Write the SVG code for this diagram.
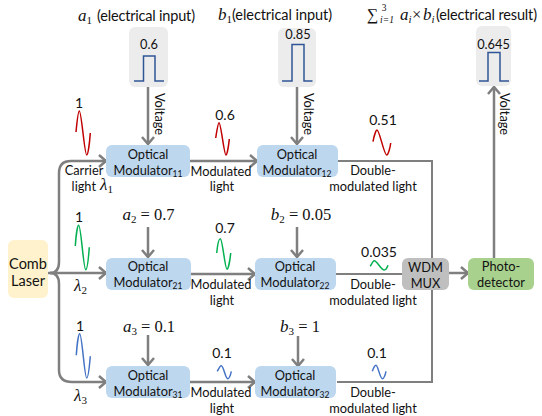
<svg xmlns="http://www.w3.org/2000/svg" width="542" height="416" viewBox="0 0 542 416">
<style>
text{font-family:"Lato","Noto Sans",sans-serif;font-size:12.8px;fill:#111;text-anchor:middle}
.st{text-anchor:start}
.n{font-size:14px}
.s{font-size:8.5px}
.m{font-family:"Liberation Serif",serif;font-style:italic;font-size:17px}
.mr{font-family:"Liberation Serif",serif;font-size:16.5px}
.ms{font-family:"Liberation Serif",serif;font-size:11px}
.msi{font-family:"Liberation Serif",serif;font-style:italic;font-size:11px}
.t{font-size:14.5px}
.l{stroke:#7f7f7f;stroke-width:2.5;fill:none}
.th{stroke:#7f7f7f;stroke-width:2;fill:none}
.mod{fill:#bdd7ee}
.sig{fill:#ececec}
.p{fill:none;stroke:#2f5597;stroke-width:1.5}
.w{fill:none;stroke-width:1.5}
.r{stroke:#c00000}.g{stroke:#00b050}.b{stroke:#4472c4}
</style>
<defs>
<marker id="a" markerUnits="userSpaceOnUse" markerWidth="16" markerHeight="16" refX="13" refY="8" orient="auto">
<polyline points="6,2 13,8 6,14" fill="none" stroke="#7f7f7f" stroke-width="2.5"/>
</marker>
</defs>

<g id="connectors">
<path class="l" d="M48 273H106" marker-end="url(#a)"/>
<path class="l" d="M50 273Q59 273 59 262V173Q59 161 71 161H106" marker-end="url(#a)"/>
<path class="l" d="M50 273Q59 273 59 284V370Q59 382 72 382H106" marker-end="url(#a)"/>
<path class="l" d="M148 87V144" marker-end="url(#a)"/>
<path class="l" d="M297 87V144" marker-end="url(#a)"/>
<path class="l" d="M148 227V257" marker-end="url(#a)"/>
<path class="l" d="M297 227V257" marker-end="url(#a)"/>
<path class="l" d="M148 335V365" marker-end="url(#a)"/>
<path class="l" d="M298 336V366" marker-end="url(#a)"/>
<path class="l" d="M190 161H257" marker-end="url(#a)"/>
<path class="l" d="M190 274H255" marker-end="url(#a)"/>
<path class="l" d="M190 382H255" marker-end="url(#a)"/>
<path class="th" d="M338 161H432V258"/>
<path class="th" d="M336 274H402"/>
<path class="th" d="M337 382H432V290"/>
<path class="l" d="M449 273H468" marker-end="url(#a)"/>
<path class="l" d="M494 258V87" marker-end="url(#a)"/>
</g>

<g id="comb-laser"><rect x="8" y="240" width="40" height="58" rx="6" fill="#fff2cc"/><text x="28" y="269" class="t">Comb</text><text x="28" y="286" class="t">Laser</text></g>

<g id="mod11"><rect class="mod" x="106" y="145" width="84" height="32" rx="6"/><text x="148" y="159">Optical</text><text x="148" y="175">Modulator<tspan class="s" dy="2">11</tspan></text></g>
<g id="mod12"><rect class="mod" x="257" y="145" width="81" height="32" rx="6"/><text x="297" y="159">Optical</text><text x="297" y="175">Modulator<tspan class="s" dy="2">12</tspan></text></g>
<g id="mod21"><rect class="mod" x="106" y="258" width="85" height="32" rx="6"/><text x="148" y="271">Optical</text><text x="148" y="287">Modulator<tspan class="s" dy="2">21</tspan></text></g>
<g id="mod22"><rect class="mod" x="255" y="258" width="81" height="32" rx="6"/><text x="295" y="271">Optical</text><text x="295" y="287">Modulator<tspan class="s" dy="2">22</tspan></text></g>
<g id="mod31"><rect class="mod" x="106" y="366" width="84" height="32" rx="6"/><text x="148" y="380">Optical</text><text x="148" y="396">Modulator<tspan class="s" dy="2">31</tspan></text></g>
<g id="mod32"><rect class="mod" x="255" y="366" width="81" height="32" rx="6"/><text x="295" y="380">Optical</text><text x="295" y="396">Modulator<tspan class="s" dy="2">32</tspan></text></g>

<g id="wdm-mux"><rect x="402" y="258" width="47" height="32" rx="6" fill="#bfbfbf"/><text x="425.500" y="272">WDM</text><text x="425.500" y="288">MUX</text></g>
<g id="photodetector"><rect x="468" y="258" width="66" height="32" rx="6" fill="#a9d18e"/><text x="501" y="271">Photo-</text><text x="501" y="287">detector</text></g>

<g id="signal-a1"><rect class="sig" x="129" y="27" width="39" height="60" rx="6"/><text x="149" y="49">0.6</text><path class="p" d="M134 81H143.500V56H155V81H164"/></g>
<g id="signal-b1"><rect class="sig" x="278" y="28" width="38" height="59" rx="6"/><text x="298" y="39">0.85</text><path class="p" d="M282 81H292V44.500H304V81H312.500"/></g>
<g id="signal-result"><rect class="sig" x="476" y="26" width="35" height="60" rx="6"/><text x="493.500" y="49">0.645</text><path class="p" d="M479 81H488V52.500H500V81H509"/></g>

<g id="waves">
<path class="w r" d="M76 132C77 122 78 111 79.300 111C81.500 111 84.500 155 86.700 155C88 155 89.500 144 90.300 133"/>
<path class="w r" d="M215.700 138C217 130 218 122.700 219 122.700C221 122.700 224 155 226 155C227 155 228.500 147 229.300 139"/>
<path class="w r" d="M373 141.700C374 136 376 130 377 130C379.500 130 384 155 386.700 155C388 155 390 149 390.700 143"/>
<path class="w g" d="M75.300 246C76 235 77.500 225.300 78.700 225.300C81 225.300 83.500 269.700 85.700 269.700C87 269.700 88.500 258 89.300 247.300"/>
<path class="w g" d="M216.700 253C217.500 245 219 238.700 220.300 238.700C222.500 238.700 225 269.300 227 269.300C228.300 269.300 230 260 230.700 253"/>
<path class="w g" d="M370.300 266.300C371.500 264 373 260.700 374.300 260.700C377 260.700 381 270 384.300 270C385.500 270 387 268 388 265.300"/>
<path class="w b" d="M76.300 355.300C77 344 78.500 333.700 79.700 333.700C82 333.700 84.500 378 86.700 378C88 378 89.500 366 90.300 356.300"/>
<path class="w b" d="M217.300 371.300C218.500 369 220 365.700 221.300 365.700C223.500 365.700 225.500 378.700 227.700 378.700C229 378.700 230.500 375 231.300 371.300"/>
<path class="w b" d="M372.300 371.300C373.500 368 374.800 365.300 376 365.300C378 365.300 380 378.700 382.300 378.700C383.600 378.700 385.200 375 386 371.300"/>
</g>

<g id="labels">
<text x="78" y="21" class="st"><tspan class="m">a</tspan><tspan class="ms" dy="3">1</tspan></text>
<text x="97" y="21" class="t st" textLength="98">(electrical input)</text>
<text x="218" y="20" class="st"><tspan class="m">b</tspan><tspan class="ms" dy="3">1</tspan></text>
<text x="232" y="20" class="t st" textLength="100">(electrical input)</text>
<text x="367" y="20" class="mr st" style="font-size:16px">∑</text>
<text x="384" y="11" class="ms" style="font-size:9.5px">3</text>
<text x="387" y="23" class="msi" style="font-size:9.5px">i<tspan class="ms" style="font-size:9.5px">=1</tspan></text>
<text x="400" y="20" class="st"><tspan class="m">a</tspan><tspan class="msi" dy="3">i</tspan></text>
<text x="412" y="20" class="mr st">×</text>
<text x="423" y="20" class="st"><tspan class="m">b</tspan><tspan class="msi" dy="3">i</tspan></text>
<text x="436" y="20" class="t st" textLength="101">(electrical result)</text>

<text class="n" x="79" y="108">1</text>
<text class="n" x="225" y="120">0.6</text>
<text class="n" x="383" y="125">0.51</text>
<text class="n" x="79" y="222">1</text>
<text class="n" x="225" y="233">0.7</text>
<text class="n" x="379" y="257">0.035</text>
<text class="n" x="80" y="331">1</text>
<text class="n" x="222" y="358">0.1</text>
<text class="n" x="377" y="358">0.1</text>

<text transform="translate(155 114) rotate(90)">Voltage</text>
<text transform="translate(304 114) rotate(90)">Voltage</text>
<text transform="translate(500 114) rotate(90)">Voltage</text>

<text x="84" y="175">Carrier</text>
<text x="96" y="191" style="text-anchor:end">light</text>
<text x="100" y="190" class="st"><tspan class="m">λ</tspan><tspan class="ms" dy="3">1</tspan></text>
<text x="74" y="291" class="st"><tspan class="m">λ</tspan><tspan class="ms" dy="3">2</tspan></text>
<text x="74" y="401" class="st"><tspan class="m">λ</tspan><tspan class="ms" dy="3">3</tspan></text>

<text x="221" y="176">Modulated</text><text x="222" y="191">light</text>
<text x="221" y="289">Modulated</text><text x="222" y="305">light</text>
<text x="221" y="397">Modulated</text><text x="222" y="413">light</text>
<text x="373" y="175">Double-</text><text x="373" y="191">modulated light</text>
<text x="373" y="289">Double-</text><text x="373" y="305">modulated light</text>
<text x="373" y="397">Double-</text><text x="373" y="413">modulated light</text>

<text x="148.500" y="220"><tspan class="m">a</tspan><tspan class="ms" dy="3">2</tspan><tspan class="mr" dy="-3" xml:space="preserve"> = 0.7</tspan></text>
<text x="301" y="220"><tspan class="m">b</tspan><tspan class="ms" dy="3">2</tspan><tspan class="mr" dy="-3" xml:space="preserve"> = 0.05</tspan></text>
<text x="149" y="332"><tspan class="m">a</tspan><tspan class="ms" dy="3">3</tspan><tspan class="mr" dy="-3" xml:space="preserve"> = 0.1</tspan></text>
<text x="300" y="332"><tspan class="m">b</tspan><tspan class="ms" dy="3">3</tspan><tspan class="mr" dy="-3" xml:space="preserve"> = 1</tspan></text>
</g>
</svg>
